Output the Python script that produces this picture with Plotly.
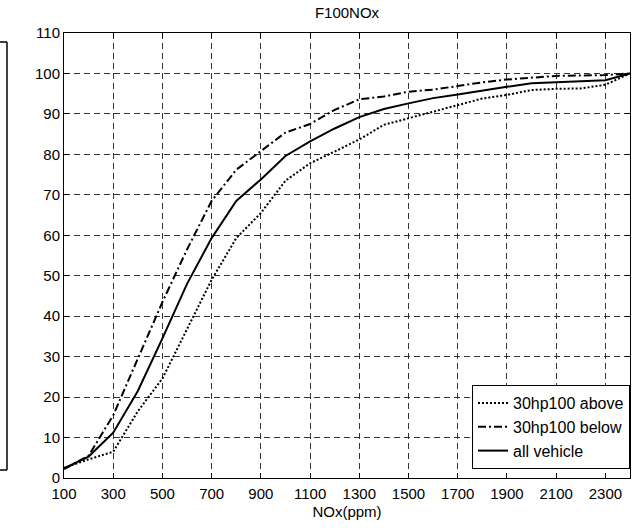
import plotly.graph_objects as go

nox = [100, 200, 300, 400, 500, 600, 700, 800, 900, 1000, 1100, 1200,
       1300, 1400, 1500, 1600, 1700, 1800, 1900, 2000, 2100, 2200, 2300, 2400]

above = [2.5, 4.6, 6.5, 16.5, 24.6, 37.0, 49.0, 59.3, 65.5, 73.5, 77.8, 80.7,
         83.7, 87.3, 88.9, 90.6, 92.2, 93.8, 94.7, 95.9, 96.2, 96.3, 97.2, 100.0]

below = [2.2, 5.5, 15.5, 29.5, 43.5, 56.5, 68.5, 76.2, 80.7, 85.4, 87.5, 91.0,
         93.6, 94.3, 95.5, 96.0, 96.9, 97.8, 98.5, 99.0, 99.4, 99.5, 99.6, 100.0]

allv = [2.4, 5.3, 11.2, 21.5, 34.5, 48.0, 59.3, 68.5, 73.8, 79.6, 83.2, 86.4,
        89.2, 91.2, 92.6, 93.9, 94.8, 95.8, 96.7, 97.6, 97.8, 98.0, 98.3, 100.0]

x_ticks = list(range(100, 2400, 200))
y_ticks = list(range(0, 111, 10))

FONT = "Liberation Sans, Arial, sans-serif"

fig = go.Figure()
fig.add_trace(go.Scatter(x=nox, y=above, mode="lines", name="30hp100 above",
                         line=dict(color="black", width=2, dash="2px,2px")))
fig.add_trace(go.Scatter(x=nox, y=below, mode="lines", name="30hp100 below",
                         line=dict(color="black", width=2, dash="8px,3px,2px,3px")))
fig.add_trace(go.Scatter(x=nox, y=allv, mode="lines", name="all vehicle",
                         line=dict(color="black", width=2)))

axis_common = dict(
    showline=True, linecolor="black", linewidth=1, mirror="ticks",
    ticks="inside", ticklen=5, tickcolor="black",
    showgrid=True, gridcolor="#333333", gridwidth=1, griddash="6px,4px",
    zeroline=False, tickfont=dict(family=FONT, size=15, color="black"),
)

fig.update_xaxes(range=[100, 2400], tickvals=x_ticks, ticklabelstandoff=2,
                 title=dict(text="NOx(ppm)", font=dict(family=FONT, size=15, color="black"),
                            standoff=5),
                 **axis_common)
fig.update_yaxes(range=[0, 110], tickvals=y_ticks, **axis_common)

# fragment of neighbouring panel at the left edge
W0, PW, PH = 64, 566, 445
def px(xp):
    return (xp - W0) / PW
def py(yp):
    return (478 - yp) / PH

shapes = [dict(type="line", xref="paper", yref="paper", x0=px(7), x1=px(7),
               y0=py(42), y1=py(470), line=dict(color="black", width=1.5)),
          dict(type="line", xref="paper", yref="paper", x0=px(0), x1=px(7),
               y0=py(42), y1=py(42), line=dict(color="black", width=1.5)),
          dict(type="line", xref="paper", yref="paper", x0=px(0), x1=px(7),
               y0=py(470), y1=py(470), line=dict(color="black", width=1.5))]
fig.update_layout(shapes=shapes)

fig.update_layout(
    width=641, height=528,
    margin=dict(l=64, r=11, t=33, b=50),
    paper_bgcolor="white", plot_bgcolor="white",
    title=dict(text="F100NOx", x=0.5, xref="paper", xanchor="center",
               y=1, yref="paper", yanchor="bottom", pad=dict(b=15),
               font=dict(family=FONT, size=15, color="black")),
    legend=dict(x=1, y=0.02, xanchor="right", yanchor="bottom",
                bgcolor="white", bordercolor="black", borderwidth=1,
                font=dict(family=FONT, size=16, color="black"),
                tracegroupgap=0, itemwidth=30),
    showlegend=True,
)

fig.write_html("out.html", config={"displayModeBar": False},
               post_script="document.body.style.margin='0';document.body.style.padding='0';")
